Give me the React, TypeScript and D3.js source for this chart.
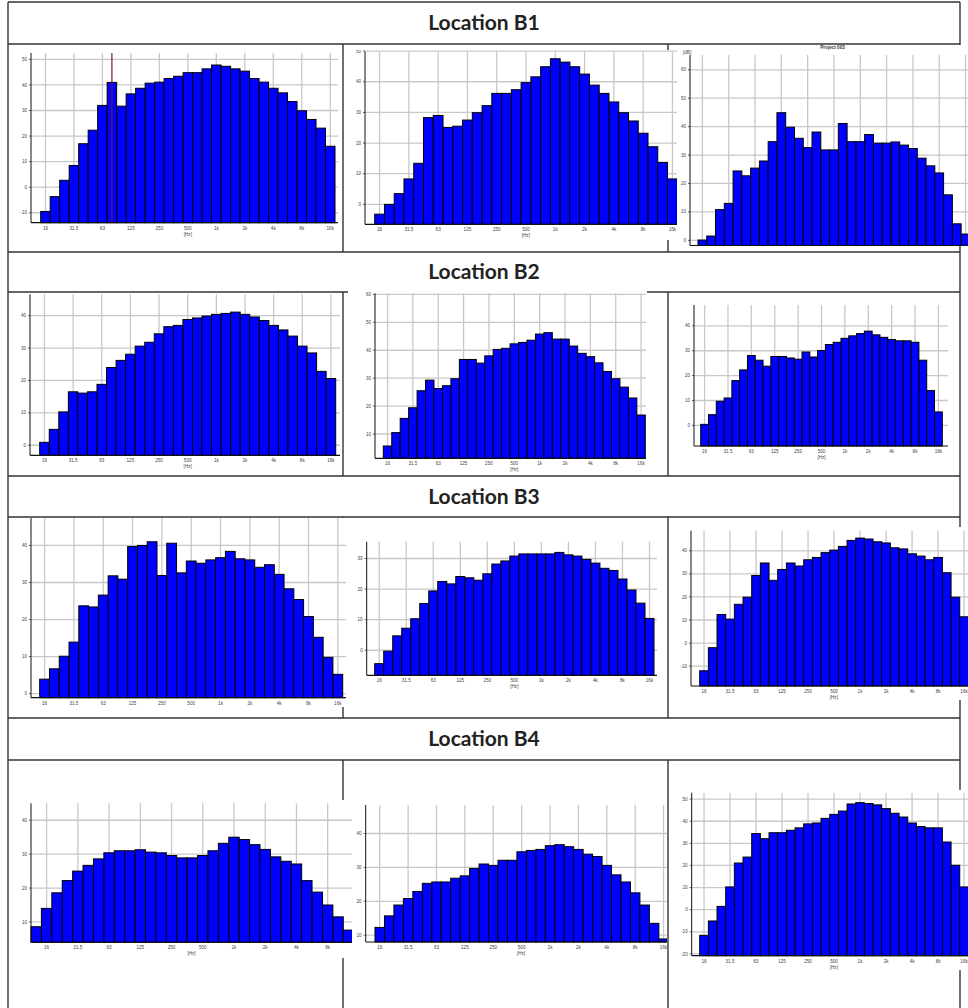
import React from 'react';
import * as d3 from 'd3';

// third-octave bands
const bands = ['12.5', '16', '20', '25', '31.5', '40', '50', '63', '80', '100', '125', '160', '200', '250', '315', '400', '500', '630', '800', '1k', '1.25k', '1.6k', '2k', '2.5k', '3.15k', '4k', '5k', '6.3k', '8k', '10k', '12.5k', '16k'];
const bandTicks = ['16', '31.5', '63', '125', '250', '500', '1k', '2k', '4k', '8k', '16k'];
const locations = ['Location B1', 'Location B2', 'Location B3', 'Location B4'];

// levels per band
const b1Left = [-9.5, -3.7, 2.7, 8.5, 17, 22.3, 32, 41, 31.7, 36.5, 38.7, 40.7, 41.1, 42.5, 43.4, 44.8, 44.8, 46.3, 47.8, 47.3, 46.3, 45.4, 42.5, 41.1, 38.7, 36.9, 33.5, 29.9, 26.5, 23.1, 16];
const b1Mid = [-3.2, 0, 3.5, 8.3, 13.4, 28.3, 29, 25.1, 25.5, 27.5, 29.9, 32.2, 36.2, 36.2, 37.4, 39.7, 41.6, 44.9, 47.5, 46.4, 44.9, 42.5, 38.9, 36.2, 33.4, 29.9, 27.2, 23.2, 18.8, 13.7, 8.3];
const b1Right = [0.1, 1.5, 10.8, 13, 24.4, 22.7, 25.4, 27.9, 34.7, 44.9, 39.8, 35.9, 32.6, 38.1, 31.8, 31.8, 41.1, 34.7, 34.7, 37.2, 34.2, 34.2, 34.6, 33.5, 32.3, 28.9, 26.2, 23.7, 16, 5.8, 2.2];
const b2Left = [0.9, 4.9, 10.3, 16.5, 16.1, 16.5, 18.8, 24, 26.2, 28.1, 30.6, 31.8, 34.4, 36.6, 37, 38.8, 39.3, 39.9, 40.4, 40.7, 41.1, 40.4, 39.6, 38.5, 37, 35.6, 33.7, 30.6, 28.5, 22.8, 20.6];
const b2Mid = [5.7, 10.5, 15.6, 19.4, 25.5, 29.3, 26.3, 27.3, 29.8, 36.7, 36.7, 35.4, 38, 40.3, 40.7, 42.3, 42.8, 43.6, 45.8, 46.3, 44, 44, 41.5, 38.9, 37.7, 35.5, 32.4, 29.8, 26.8, 22.9, 16.8];
const b2Right = [0.4, 4.3, 9.7, 11, 18, 22.3, 28.1, 26.2, 23.8, 27.7, 27.7, 27.1, 26.6, 29.5, 27.5, 30.1, 32.5, 33.4, 35, 36, 36.9, 37.9, 36.4, 35.4, 34.5, 34, 34, 33.4, 26.2, 14, 5.4];
const b3Left = [3.9, 6.7, 10.1, 13.9, 23.7, 23.4, 26.6, 31.8, 30.9, 39.7, 40, 41, 31.9, 40.6, 32.6, 35.8, 35.2, 36.1, 36.7, 38.4, 36.4, 36.1, 34.1, 34.8, 32.2, 28.3, 25.4, 20.8, 15.2, 9.8, 5.2];
const b3Mid = [-4.4, -0.3, 4.7, 7.2, 10.3, 15.3, 19.4, 22.5, 21.7, 24.1, 23.7, 22.9, 25, 28.2, 29.2, 30.8, 31.5, 31.5, 31.5, 31.5, 32, 31.2, 30.8, 29.7, 28.5, 26.8, 26.1, 23.3, 19.7, 15.4, 10.4];
const b3Right = [-12, -2, 12.4, 10.4, 16.8, 19.9, 29.3, 34.7, 27.2, 31.9, 34.7, 33.4, 36.1, 37.1, 39.2, 40.3, 41.9, 44.5, 45.5, 45.1, 43.9, 43.4, 41.3, 40.8, 38.7, 37.7, 36.1, 37.1, 30.5, 19.9, 11.4];
const b4Left = [8.6, 14, 18.6, 22.2, 25, 26.7, 28.6, 30.4, 31, 31, 31.3, 30.6, 30.4, 29.6, 28.9, 28.9, 29.6, 31, 33.2, 35, 34.3, 32.8, 31.4, 29.2, 27.9, 27.1, 22.2, 18.8, 15, 11.5, 7.6];
const b4Mid = [12.3, 15.7, 18.9, 20.8, 22.9, 25.3, 25.7, 25.7, 26.8, 27.5, 29.7, 31, 30.6, 32.1, 32.1, 34.6, 35, 35.3, 36.4, 36.7, 36.1, 35.3, 33.9, 33.2, 30.6, 27.8, 25.7, 22.5, 18.9, 13.5, 8.9];
const b4Right = [-11.6, -5.1, 1.5, 10.3, 21.1, 23.8, 34.4, 32.1, 34.8, 34.8, 35.9, 37, 38.8, 39.2, 41.3, 43.1, 44.6, 47.8, 48.4, 48, 47.4, 45.7, 43.6, 41.9, 39.2, 37.6, 37, 37, 30.6, 20.1, 10.3];

const ticks0to50 = [-10, 0, 10, 20, 30, 40, 50];
const ticks0to40 = [0, 10, 20, 30, 40];
const ticks0to60 = [0, 10, 20, 30, 40, 50, 60];
const ticks10to60 = [10, 20, 30, 40, 50, 60];
const ticks0to30 = [0, 10, 20, 30];
const ticksM10to40 = [-10, 0, 10, 20, 30, 40];
const ticks10to40 = [10, 20, 30, 40];
const ticksM20to50 = [-20, -10, 0, 10, 20, 30, 40, 50];

type Panel = {
  values: number[];
  first: string;
  count: number;
  yDomain: [number, number];
  yTicks: number[];
  axisX: number;
  right: number;
  top: number;
  bottom: number;
  x0: number;
  x1: number;
  clip: [number, number, number, number];
  xLabels?: boolean;
  marker?: string;
  title?: string;
};

const panels: Panel[] = [
  { values: b1Left, first: '16', count: 31, yDomain: [-13.9, 52.5], yTicks: ticks0to50, axisX: 31, right: 338, top: 53, bottom: 222.7, x0: 40.7, x1: 335, clip: [10, 45, 331, 206], xLabels: true, marker: '80' },
  { values: b1Mid, first: '16', count: 31, yDomain: [-6.5, 49.8], yTicks: [0, 10, 20, 30, 40, 50], axisX: 365, right: 677, top: 51.7, bottom: 224.3, x0: 374.7, x1: 677.3, clip: [345, 50, 332, 190], xLabels: true },
  { values: b1Right, first: '16', count: 31, yDomain: [-1.9, 65.2], yTicks: ticks0to60, axisX: 690, right: 968, top: 55, bottom: 245.7, x0: 698, x1: 969.9, clip: [677, 45, 291, 201], title: 'Project 003' },
  { values: b2Left, first: '16', count: 31, yDomain: [-3.1, 46.6], yTicks: ticks0to40, axisX: 30, right: 340, top: 294.3, bottom: 455.3, x0: 39.7, x1: 335.7, clip: [10, 293, 330, 182], xLabels: true },
  { values: b2Mid, first: '16', count: 31, yDomain: [1.3, 60.4], yTicks: ticks10to60, axisX: 375, right: 646, top: 293.3, bottom: 458.3, x0: 383.3, x1: 645.3, clip: [348, 287, 299, 188], xLabels: true },
  { values: b2Right, first: '16', count: 31, yDomain: [-8.3, 48.4], yTicks: ticks0to40, axisX: 694, right: 948, top: 305, bottom: 446, x0: 700.7, x1: 942.3, clip: [672, 294, 285, 180], xLabels: true },
  { values: b3Left, first: '16', count: 31, yDomain: [-1.1, 47.6], yTicks: ticks0to40, axisX: 31, right: 346, top: 517.3, bottom: 697.7, x0: 39.7, x1: 342.7, clip: [10, 518, 337, 189], xLabels: true },
  { values: b3Mid, first: '16', count: 31, yDomain: [-8.2, 35.5], yTicks: ticks0to30, axisX: 366.7, right: 657, top: 541.7, bottom: 675.3, x0: 374.7, x1: 654, clip: [348, 519, 319, 198], xLabels: true },
  { values: b3Right, first: '16', count: 31, yDomain: [-18.6, 48.7], yTicks: ticksM10to40, axisX: 691, right: 968, top: 530.7, bottom: 686, x0: 699.7, x1: 968.4, clip: [671, 527, 297, 173], xLabels: true },
  { values: b4Left, first: '12.5', count: 32, yDomain: [4, 45], yTicks: ticks10to40, axisX: 31, right: 352, top: 803.3, bottom: 942.3, x0: 31, x1: 364.1, clip: [10, 800, 342, 158], xLabels: true },
  { values: b4Mid, first: '16', count: 31, yDomain: [8, 48.4], yTicks: ticks10to40, axisX: 365.7, right: 667, top: 805, bottom: 942, x0: 375, x1: 668.3, clip: [352, 800, 315, 158], xLabels: true },
  { values: b4Right, first: '16', count: 31, yDomain: [-20.8, 52.9], yTicks: ticksM20to50, axisX: 691.7, right: 968, top: 792.7, bottom: 955.7, x0: 699.7, x1: 968.4, clip: [671, 790, 297, 180], xLabels: true },
];

const tickFont = 'Liberation Sans, Arial, sans-serif';

function Histogram({ p, id }: { p: Panel; id: string }) {
  const start = bands.indexOf(p.first);
  const domain = bands.slice(start, start + p.count);
  const x = d3.scaleBand().domain(domain).range([p.x0, p.x1]).padding(0);
  const y = d3.scaleLinear().domain(p.yDomain).range([p.bottom, p.top]);
  const bw = x.bandwidth();
  const [cx, cy, cw, ch] = p.clip;
  const xt = bandTicks.filter((t) => domain.includes(t));
  return (
    <g>
      <clipPath id={id}>
        <rect x={cx} y={cy} width={cw} height={ch} />
      </clipPath>
      <g clipPath={`url(#${id})`}>
        <rect x={cx} y={cy} width={cw} height={ch} fill="#fff" />
        {/* grid */}
        {xt.map((t) => (
          <line key={'gx' + t} x1={x(t)! + bw / 2} x2={x(t)! + bw / 2} y1={p.top} y2={p.bottom} stroke="#c8c8c8" strokeWidth={1.3} />
        ))}
        {p.yTicks.map((v) => (
          <line key={'gy' + v} x1={p.axisX} x2={p.right} y1={y(v)} y2={y(v)} stroke="#c8c8c8" strokeWidth={1.3} />
        ))}
        {/* bars */}
        {p.values.map((v, i) => (
          <rect key={i} x={x(domain[i])!} y={y(v)} width={bw} height={p.bottom - y(v)} fill="#0000ff" stroke="#000" strokeWidth={1} />
        ))}
        {p.marker && (
          <line x1={x(p.marker)! + bw / 2} x2={x(p.marker)! + bw / 2} y1={p.top} y2={p.bottom} stroke="#7a1050" strokeWidth={1.2} />
        )}
        {/* axes */}
        <line x1={p.axisX} x2={p.axisX} y1={p.top} y2={p.bottom} stroke="#111" strokeWidth={1} />
        <line x1={p.axisX} x2={p.right} y1={p.bottom} y2={p.bottom} stroke="#111" strokeWidth={1.2} />
        {p.yTicks.map((v) => (
          <g key={'ty' + v}>
            <line x1={p.axisX - 2} x2={p.axisX} y1={y(v)} y2={y(v)} stroke="#333" strokeWidth={0.8} />
            <text x={p.axisX - 4} y={y(v) + 1.6} fontSize={4.6} fill="#444" textAnchor="end" fontFamily={tickFont}>{v}</text>
          </g>
        ))}
        {p.xLabels && xt.map((t) => (
          <text key={'tx' + t} x={x(t)! + bw / 2} y={p.bottom + 7} fontSize={4.6} fill="#444" textAnchor="middle" fontFamily={tickFont}>{t}</text>
        ))}
        {p.xLabels && (
          <text x={(p.x0 + Math.min(p.x1, p.right)) / 2} y={p.bottom + 13} fontSize={4.6} fill="#444" textAnchor="middle" fontFamily={tickFont}>[Hz]</text>
        )}
        {p.title && (
          <>
            <text x={(cx + 968) / 2 + 10} y={cy + 3.5} fontSize={4.6} fontWeight="bold" fill="#333" textAnchor="middle" fontFamily={tickFont}>{p.title}</text>
            <text x={p.axisX - 7} y={p.top - 1} fontSize={4.6} fill="#444" fontFamily={tickFont}>[dB]</text>
          </>
        )}
      </g>
    </g>
  );
}

// table rules
const headerRows = [[2, 44], [252, 292], [476, 517], [718, 760]];
const rowLines = [2, 44, 252, 292, 476, 517, 718, 760];
const colSpans = [[44, 252], [292, 476], [517, 718], [760, 1008]];

export default function App() {
  return (
    <div style={{ position: 'absolute', left: 0, top: 0, width: 968, height: 1008, background: '#fff' }}>
      <svg width={968} height={1008} style={{ display: 'block' }}>
        <rect width={968} height={1008} fill="#fff" />
        {rowLines.map((yy) => (
          <line key={'r' + yy} x1={8} x2={960} y1={yy} y2={yy} stroke="#333" strokeWidth={1.4} />
        ))}
        <line x1={8} x2={8} y1={2} y2={1008} stroke="#333" strokeWidth={1.4} />
        <line x1={960} x2={960} y1={2} y2={1008} stroke="#333" strokeWidth={1.4} />
        {colSpans.map(([a, b]) => (
          <g key={'c' + a}>
            <line x1={343} x2={343} y1={a} y2={b} stroke="#333" strokeWidth={1.4} />
            <line x1={668} x2={668} y1={a} y2={b} stroke="#333" strokeWidth={1.4} />
          </g>
        ))}
        {headerRows.map(([a, b], i) => (
          <text key={locations[i]} x={484} y={(a + b) / 2 + 7} fontSize={21} fontWeight="bold" fill="#222" textAnchor="middle" fontFamily="Lato, 'Open Sans', sans-serif">{locations[i]}</text>
        ))}
        {panels.map((p, i) => (
          <Histogram key={i} p={p} id={'clip' + i} />
        ))}
      </svg>
    </div>
  );
}
